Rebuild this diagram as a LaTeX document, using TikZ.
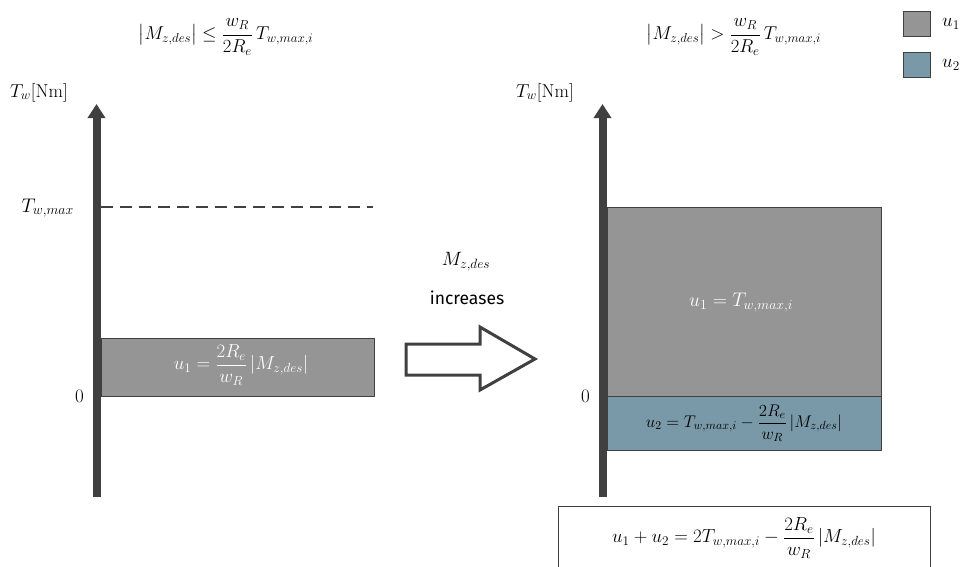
\RequirePackage{fix-cm}
\documentclass[tikz,border=0pt]{standalone}
\usepackage{amsmath}
\usepackage{fontspec}
\newfontfamily\incfont{Fira Sans}
\usetikzlibrary{arrows.meta}
\definecolor{axisgray}{HTML}{404040}
\definecolor{ufill}{HTML}{959595}
\definecolor{vfill}{HTML}{7A99A8}
\begin{document}
\begin{tikzpicture}[x=1pt,y=-1pt,
  every node/.style={font=\fontsize{19}{23}\selectfont, inner sep=0pt},
  axisline/.style={line width=8pt, axisgray, -{Triangle[width=17pt,length=14pt]}},
  bar/.style={draw=axisgray, line width=1.2pt, anchor=north west, text=white},
  ubar/.style={bar, fill=ufill},
  vbar/.style={bar, fill=vfill, text=black},
  legbox/.style={draw=axisgray, line width=1.2pt, minimum width=27pt, minimum height=25pt, anchor=north west}
]
\useasboundingbox (0,0) rectangle (965,566);
\clip (0,0) rectangle (965,566);

% titles
\node[font=\fontsize{18.6}{22}\selectfont] (t1) at (226,37) {$\bigl|M_{z,des}\bigr| \le \dfrac{w_R}{2R_e}\,T_{w,max,i}$};
\node[font=\fontsize{18.6}{22}\selectfont] (t2) at (734,37) {$\bigl|M_{z,des}\bigr| > \dfrac{w_R}{2R_e}\,T_{w,max,i}$};

% legend
\node[legbox, fill=ufill] (l1) at (903,11) {};
\node[legbox, fill=vfill] (l2) at (903,52) {};
\node[anchor=west] (l1t) at (942,24) {$u_1$};
\node[anchor=west] (l2t) at (942,65) {$u_2$};

% left diagram
\coordinate (a1b) at (96.5,497);
\coordinate (a1t) at (96.5,104);
\draw[axisline] (a1b) -- (a1t);
\node[anchor=base west, font=\fontsize{18.7}{22}\selectfont] (yl1) at (10,97) {$T_w[\mathrm{Nm}]$};
\node[anchor=base east, font=\fontsize{19.7}{23}\selectfont] (tmax) at (74,212) {$T_{w,max}$};
\node[anchor=east] (z1) at (84,396) {$0$};
\coordinate (d1) at (101,207);
\coordinate (d2) at (373,207);
\draw[dash pattern=on 12pt off 7pt, line width=2pt, axisgray] (d1) -- (d2);
\node[ubar, minimum width=273pt, minimum height=58pt] (b1) at (100.5,338) {};
\node[text=white, font=\fontsize{18.9}{22}\selectfont] (b1t) at (241,365) {$u_1 = \dfrac{2R_e}{w_R}\left|M_{z,des}\right|$};

% block arrow
\node[font=\fontsize{19.3}{23}\selectfont] (mz) at (466,262) {$M_{z,des}$};
\node (inc) at (467,298) {\incfont\fontsize{17.5}{20}\selectfont increases};
\draw[line width=3pt, axisgray, line join=miter] (406,344) -- (480,344) -- (480,327) -- (535,359) -- (480,390) -- (480,375) -- (406,375) -- cycle;

% right diagram
\coordinate (a2b) at (602.5,497);
\coordinate (a2t) at (602.5,104);
\draw[axisline] (a2b) -- (a2t);
\node[anchor=base west, font=\fontsize{18.7}{22}\selectfont] (yl2) at (516,97) {$T_w[\mathrm{Nm}]$};
\node[anchor=east] (z2) at (590,396) {$0$};
\node[ubar, minimum width=274pt, minimum height=189pt] (b2) at (606.5,207) {};
\node[text=white, font=\fontsize{19.7}{23}\selectfont] (b2t) at (741,303) {$u_1 = T_{w,max,i}$};
\node[vbar, minimum width=274pt, minimum height=54pt] (b3) at (606.5,396) {};
\node[font=\fontsize{16.9}{20}\selectfont] (b3t) at (744,423) {$u_2 = T_{w,max,i} - \dfrac{2R_e}{w_R}\left|M_{z,des}\right|$};

% sum box
\node[draw=axisgray, line width=1.2pt, anchor=north west, minimum width=372pt, minimum height=80pt] (sum) at (558,506) {};
\node[font=\fontsize{18.9}{22}\selectfont] (sumt) at (744,538) {$u_1 + u_2 = 2T_{w,max,i} - \dfrac{2R_e}{w_R}\left|M_{z,des}\right|$};
\end{tikzpicture}
\end{document}
